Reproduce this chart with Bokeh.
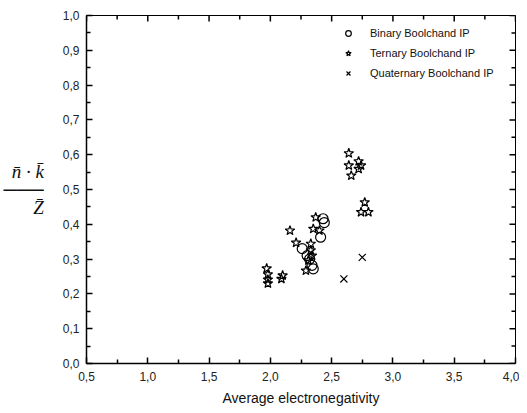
import math
from bokeh.plotting import figure
from bokeh.models import (Range1d, CustomJSTickFormatter, Legend, LegendItem,
                          FixedTicker)
from bokeh.embed import file_html
from bokeh.resources import INLINE

# ---- data ----
binary_x = [2.26, 2.30, 2.32, 2.34, 2.35, 2.41, 2.43, 2.44]
binary_y = [0.330, 0.310, 0.300, 0.282, 0.272, 0.363, 0.416, 0.405]

ternary_x = [1.97, 1.98, 1.98, 1.98, 2.09, 2.10, 2.16, 2.21, 2.29, 2.31, 2.33,
             2.33, 2.34, 2.35, 2.37, 2.40, 2.64, 2.64, 2.66, 2.72, 2.72, 2.74,
             2.77, 2.74, 2.80]
ternary_y = [0.273, 0.256, 0.241, 0.230, 0.243, 0.253, 0.382, 0.347, 0.267,
             0.296, 0.325, 0.344, 0.310, 0.387, 0.420, 0.382, 0.604, 0.569,
             0.540, 0.581, 0.559, 0.569, 0.463, 0.435, 0.435]

quaternary_x = [2.60, 2.75]
quaternary_y = [0.243, 0.305]

x_ticks = [0.5, 1.0, 1.5, 2.0, 2.5, 3.0, 3.5, 4.0]
y_ticks = [0.0, 0.1, 0.2, 0.3, 0.4, 0.5, 0.6, 0.7, 0.8, 0.9, 1.0]

series_names = ["Binary Boolchand IP", "Ternary Boolchand IP",
                "Quaternary Boolchand IP"]
x_title = "Average electronegativity"
y_title = "n\u0304 \u00b7 k\u0304\n\u2500\u2500\u2500\nZ\u0304"

FONT = "Liberation Sans"

p = figure(output_backend="svg", toolbar_location=None,
           width=519, height=411,
           min_border_left=85, min_border_right=4, min_border_top=15,
           min_border_bottom=48,
           x_range=Range1d(x_ticks[0], x_ticks[-1]),
           y_range=Range1d(y_ticks[0], y_ticks[-1]))
p.grid.visible = False
p.outline_line_color = "black"

fmt = CustomJSTickFormatter(code="return tick.toFixed(1).replace('.', ',');")

x_minor = [x + 0.25 for x in x_ticks[:-1]]
y_minor = [round(y + 0.05, 2) for y in y_ticks[:-1]]

for ax in (p.xaxis[0], p.yaxis[0]):
    ax.axis_line_color = "black"
    ax.axis_line_width = 1.5
    ax.major_tick_line_color = "black"
    ax.minor_tick_line_color = "black"
    ax.major_tick_line_width = 1.5
    ax.minor_tick_line_width = 1.5
    ax.major_tick_in = 6
    ax.major_tick_out = 0
    ax.minor_tick_in = 4
    ax.minor_tick_out = 0
    ax.major_label_text_font = FONT
    ax.major_label_text_font_size = "12px"
    ax.major_label_text_color = "#222222"
    ax.formatter = fmt

xb = p.xaxis[0]
xb.ticker = FixedTicker(ticks=x_ticks, minor_ticks=x_minor)
xb.axis_label = x_title
xb.major_label_standoff = 8
xb.axis_label_standoff = 6
xb.axis_label_text_font = FONT
xb.axis_label_text_font_style = "normal"
xb.axis_label_text_font_size = "14px"
xb.axis_label_text_color = "#111111"

yl = p.yaxis[0]
yl.ticker = FixedTicker(ticks=y_ticks, minor_ticks=y_minor)
yl.axis_label = y_title
yl.major_label_standoff = 7
yl.axis_label_orientation = "horizontal"
yl.axis_label_standoff = 16
yl.axis_label_text_font = "Liberation Serif"
yl.axis_label_text_font_style = "italic"
yl.axis_label_text_font_size = "19px"
yl.axis_label_text_color = "#111111"
yl.axis_label_text_line_height = 0.85
yl.axis_label_text_align = "center"

# inward tick marks on the top and right edges: dash markers centred on
# the frame edge, so half of each is visible inside the frame
tk = dict(marker="dash", line_color="black", line_width=1.5)
for ticks, size in ((x_ticks, 12), (x_minor, 8)):
    p.scatter(ticks, [y_ticks[-1]] * len(ticks), size=size,
              angle=math.pi / 2, **tk)
for ticks, size in ((y_ticks, 12), (y_minor, 8)):
    p.scatter([x_ticks[-1]] * len(ticks), ticks, size=size, **tk)

r1 = p.scatter(binary_x, binary_y, marker="circle", size=10,
               fill_color=None, line_color="black", line_width=1.2)
r2 = p.scatter(ternary_x, ternary_y, marker="star", size=10,
               fill_color=None, line_color="black", line_width=1.2)
r3 = p.scatter(quaternary_x, quaternary_y, marker="x", size=10,
               line_color="black", line_width=1.2)

legend = Legend(items=[LegendItem(label=series_names[0], renderers=[r1]),
                       LegendItem(label=series_names[1], renderers=[r2]),
                       LegendItem(label=series_names[2], renderers=[r3])],
                location=(255, 283))
legend.border_line_color = None
legend.background_fill_alpha = 0
legend.padding = 0
legend.margin = 0
legend.spacing = 6
legend.glyph_width = 14
legend.glyph_height = 14
legend.label_standoff = 15
legend.label_text_font = FONT
legend.label_text_font_size = "11px"
legend.label_text_color = "#111111"
p.add_layout(legend, "center")

open("out.html", "w").write(file_html(p, INLINE))
